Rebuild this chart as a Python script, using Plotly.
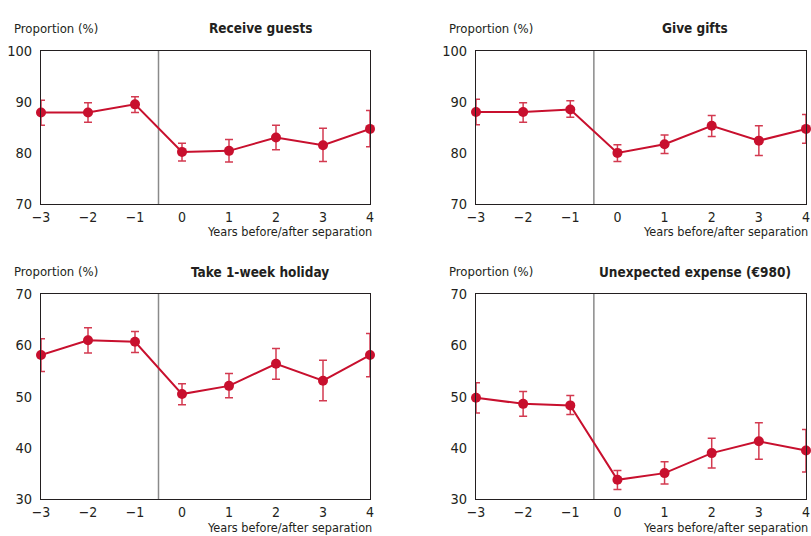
import plotly.graph_objects as go

W, H = 811, 536
years = [-3, -2, -1, 0, 1, 2, 3, 4]
separation_x = -0.5

guests = [87.9, 87.9, 89.5, 80.2, 80.4, 83.0, 81.5, 84.7]
guests_hi = [90.3, 89.8, 91.0, 81.9, 82.6, 85.4, 84.8, 88.3]
guests_lo = [85.4, 86.0, 87.9, 78.4, 78.2, 80.6, 78.3, 81.2]

gifts = [88.0, 88.0, 88.5, 80.0, 81.7, 85.3, 82.4, 84.7]
gifts_hi = [90.5, 89.8, 90.2, 81.6, 83.5, 87.3, 85.3, 87.5]
gifts_lo = [85.5, 86.0, 87.0, 78.3, 79.9, 83.2, 79.5, 81.9]

holiday = [58.1, 61.0, 60.7, 50.5, 52.1, 56.4, 53.1, 58.1]
holiday_hi = [61.3, 63.4, 62.7, 52.5, 54.5, 59.4, 57.1, 62.3]
holiday_lo = [54.9, 58.5, 58.6, 48.4, 49.8, 53.4, 49.2, 53.9]

expense = [49.8, 48.6, 48.3, 33.8, 35.1, 39.0, 41.3, 39.5]
expense_hi = [52.7, 51.0, 50.2, 35.6, 37.3, 41.9, 44.9, 43.6]
expense_lo = [46.8, 46.2, 46.5, 31.9, 33.0, 36.1, 37.8, 35.3]

titles = ["Receive guests", "Give gifts", "Take 1-week holiday", "Unexpected expense (€980)"]
y_label = "Proportion (%)"
x_label = "Years before/after separation"
x_ticks = [-3, -2, -1, 0, 1, 2, 3, 4]
x_ticktext = ["\u22123", "\u22122", "\u22121", "0", "1", "2", "3", "4"]
top_yrange, top_yticks = [70, 100], [70, 80, 90, 100]
bot_yrange, bot_yticks = [30, 70], [30, 40, 50, 60, 70]

RED = "#c8102e"
ERR = "#d33a50"
TXT = "#231f20"
FONT = "Liberation Sans Narrow, DejaVu Sans Condensed, sans-serif"

# panel pixel boxes: (left, right, top, bottom)
boxes = [(41, 370, 50.7, 204), (476, 806, 50.7, 204),
         (41, 370, 294, 499.3), (476, 806, 294, 499.3)]
series = [(guests, guests_hi, guests_lo, top_yrange, top_yticks),
          (gifts, gifts_hi, gifts_lo, top_yrange, top_yticks),
          (holiday, holiday_hi, holiday_lo, bot_yrange, bot_yticks),
          (expense, expense_hi, expense_lo, bot_yrange, bot_yticks)]

def px(x):
    return x / W

def py(y):
    return 1 - y / H

fig = go.Figure()
layout = {}
annotations = []
shapes = []
for i, (box, (vals, hi, lo, yr, yt)) in enumerate(zip(boxes, series)):
    l, r, t, b = box
    xa = 2 * i + 1
    xb = 2 * i + 2
    xn = "x" if xa == 1 else f"x{xa}"
    yn = "y" if xa == 1 else f"y{xa}"
    fig.add_trace(go.Scatter(
        x=years, y=vals, mode="lines+markers",
        line=dict(color=RED, width=2),
        marker=dict(color=RED, size=10),
        error_y=dict(type="data", symmetric=False,
                     array=[h - v for h, v in zip(hi, vals)],
                     arrayminus=[v - lo_ for v, lo_ in zip(vals, lo)],
                     color=ERR, thickness=1.5, width=4),
        xaxis=xn, yaxis=yn, showlegend=False, cliponaxis=False))
    xr = [x_ticks[0], x_ticks[-1]]
    common = dict(automargin=False, showgrid=False, zeroline=False)
    layout[f"xaxis{xa}"] = dict(domain=[px(l), px(r)], range=xr, anchor=yn,
                                tickvals=x_ticks, ticktext=x_ticktext, ticks="",
                                showline=True, linecolor=TXT, linewidth=1, mirror=True,
                                ticklabelstandoff=0,
                                tickfont=dict(family=FONT, size=14, color=TXT), **common)
    layout[f"yaxis{xa}"] = dict(domain=[py(b), py(t)], range=yr, anchor=xn,
                                tickvals=yt, ticks="",
                                showline=True, linecolor=TXT, linewidth=1, mirror=True,
                                ticklabelstandoff=5,
                                tickfont=dict(family=FONT, size=14.5, color=TXT), **common)
    layout[f"xaxis{xb}"] = dict(domain=[px(l), px(r)], range=xr, anchor=yn,
                                overlaying=xn, side="top", tickvals=x_ticks,
                                ticks="inside", ticklen=5, tickwidth=1, tickcolor=TXT,
                                showticklabels=False, showline=False, **common)
    layout[f"yaxis{xb}"] = dict(domain=[py(b), py(t)], range=yr, anchor=xn,
                                overlaying=yn, side="right", tickvals=yt,
                                ticks="inside", ticklen=5, tickwidth=1, tickcolor=TXT,
                                showticklabels=False, showline=False, **common)
    shapes.append(dict(type="line", xref=xn, yref=f"{yn} domain",
                       x0=separation_x, x1=separation_x, y0=0, y1=1,
                       line=dict(color="#8a8a8a", width=1.5), layer="below"))
    annotations.append(dict(text=y_label, x=px(l - 29), y=py(t - 22.5), xref="paper", yref="paper",
                            xanchor="left", yanchor="middle", showarrow=False,
                            font=dict(family=FONT, size=13, color=TXT)))
    annotations.append(dict(text=f"<b>{titles[i]}</b>", x=px(l + 219), y=py(t - 22.5),
                            xref="paper", yref="paper", xanchor="center", yanchor="middle",
                            showarrow=False, font=dict(family=FONT, size=13.5, color=TXT)))
    annotations.append(dict(text=x_label, x=px(r + 4), y=py(b + 28), xref="paper", yref="paper",
                            xanchor="right", yanchor="middle", showarrow=False,
                            font=dict(family=FONT, size=12.6, color=TXT)))

fig.update_layout(width=W, height=H, margin=dict(l=0, r=0, t=0, b=0),
                  paper_bgcolor="white", plot_bgcolor="white",
                  annotations=annotations, shapes=shapes, **layout)
fig.write_html("out.html", config={"displayModeBar": False},
               post_script="document.body.style.margin='0';document.body.style.overflow='hidden';")
